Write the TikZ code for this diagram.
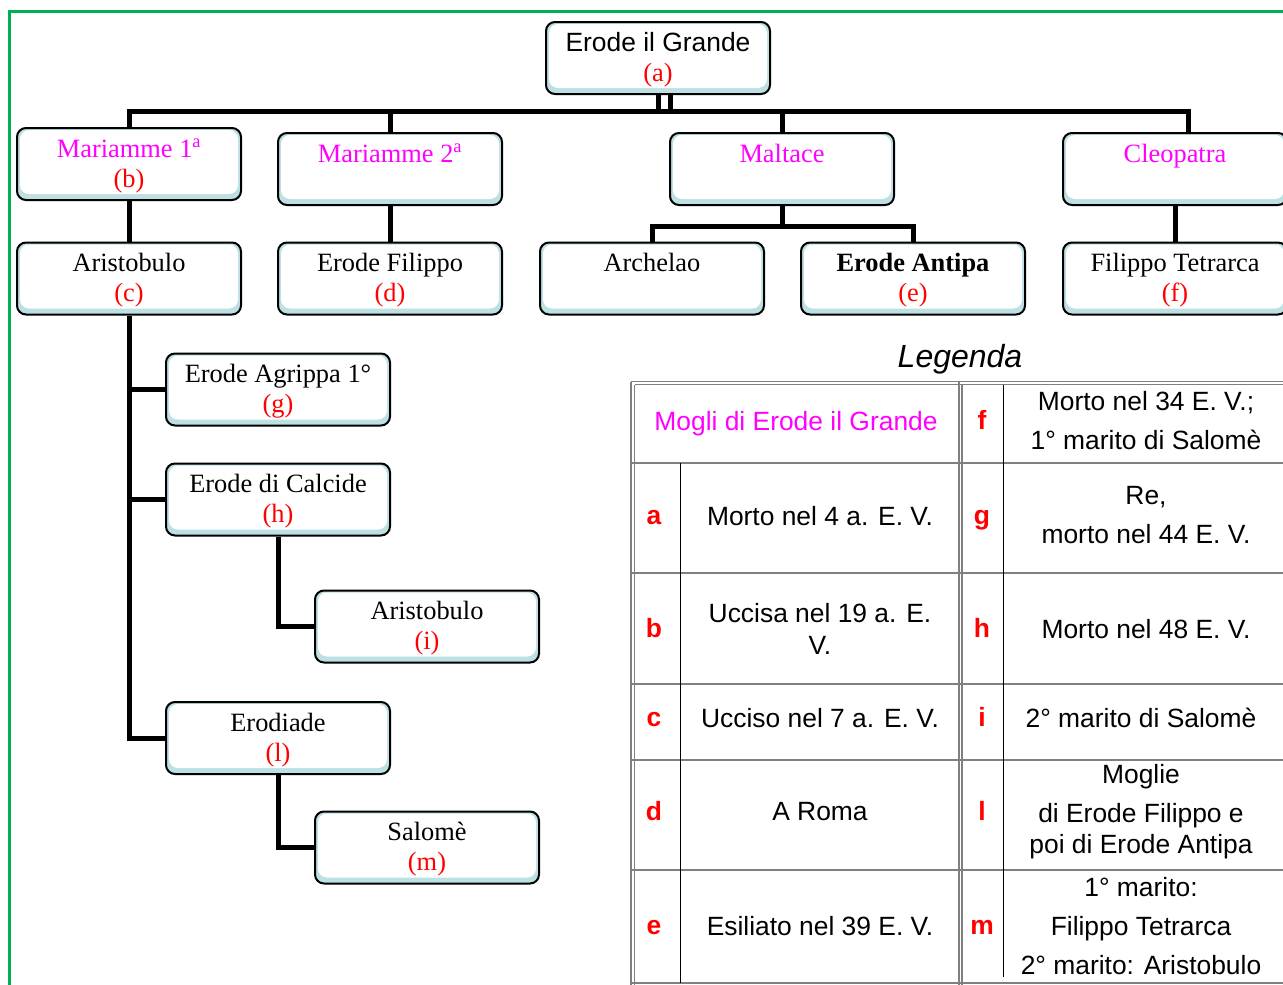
\documentclass[tikz,border=0pt]{standalone}
\usepackage{fontspec}
\setmainfont{Liberation Serif}
\setsansfont{Liberation Sans}
\usetikzlibrary{calc,positioning}

\definecolor{boxblue}{RGB}{189,224,227}
\definecolor{framegreen}{RGB}{0,176,80}
\definecolor{wife}{RGB}{255,0,255}
\definecolor{gridgrey}{RGB}{128,128,128}

\newcommand{\lett}[1]{\textcolor{red}{(#1)}}
% two lines of a box, set 2pt lower than the centre
\newcommand{\who}[2]{\raisebox{-2pt}[\height][\depth]{\begin{tabular}{@{}c@{}}#1\\\mbox{}#2\end{tabular}}}

\tikzset{
  person/.style={draw, line width=2pt, rounded corners=9pt, fill=boxblue,
    minimum width=224pt, minimum height=72pt, inner sep=0pt,
    font=\fontsize{26.4}{30}\selectfont,
    path picture={\fill[white] ([xshift=3pt,yshift=6pt]path picture bounding box.south west)
      rectangle ([xshift=-3pt,yshift=-2pt]path picture bounding box.north east);}},
  conn/.style={line width=5pt},
  cell/.style={font=\sffamily\fontsize{26.4}{39}\selectfont, align=center},
  key/.style={font=\sffamily\bfseries\fontsize{26.4}{30}\selectfont, text=red, anchor=base},
  rule/.style={gridgrey, line width=1.2pt},
  thinrule/.style={black, line width=0.8pt}
}

\begin{document}
\begin{tikzpicture}[x=1pt,y=-1pt]
\useasboundingbox (0,0) rectangle (1283,985);
\draw[framegreen, line width=3pt] (9,985) -- (9,11) -- (1283,11);

% the family tree
\node[person] (a) at (658,58) {\who{\sffamily Erode il Grande}{\lett{a}}};
\node[person, text=wife] (b) at (129,164) {\who{Mariamme 1\textsuperscript{a}}{\lett{b}}};
\node[person, text=wife] (m2) at (390,169) {\who{Mariamme 2\textsuperscript{a}}{}};
\node[person, text=wife] (mt) at (782,169) {\who{Maltace}{}};
\node[person, text=wife] (cl) at (1175,169) {\who{Cleopatra}{}};
\node[person] (c) at (129,278.5) {\who{Aristobulo}{\lett{c}}};
\node[person] (d) at (390,278.5) {\who{Erode Filippo}{\lett{d}}};
\node[person] (ar) at (652,278.5) {\who{Archelao}{}};
\node[person] (e) at (913,278.5) {\who{\textbf{Erode Antipa}}{\lett{e}}};
\node[person] (f) at (1175,278.5) {\who{Filippo Tetrarca}{\lett{f}}};
\node[person] (g) at (278,389.5) {\who{Erode Agrippa 1°}{\lett{g}}};
\node[person] (h) at (278,499.5) {\who{Erode di Calcide}{\lett{h}}};
\node[person] (i) at (427,626.5) {\who{Aristobulo}{\lett{i}}};
\node[person] (l) at (278,738) {\who{Erodiade}{\lett{l}}};
\node[person] (m) at (427,847.5) {\who{Salomè}{\lett{m}}};

% connectors
\coordinate (top) at (0,111);
\coordinate (clt) at ([xshift=13pt]cl.north);
\coordinate (mtj) at ([yshift=-20pt]mt.south);
\draw[conn] (a.south) -- (a.south |- top);
\draw[conn] ([xshift=12pt]a.south) -- ([xshift=12pt]a.south |- top);
\draw[conn] (b.north) |- (top -| clt) -- (clt);
\draw[conn] (m2.north) -- (m2.north |- top);
\draw[conn] (mt.north) -- (mt.north |- top);
\draw[conn] (b.south) -- (c.north);
\draw[conn] (m2.south) -- (d.north);
\draw[conn] (mt.south) -- (mtj);
\draw[conn] (ar.north) |- (mtj) -| (e.north);
\draw[conn] (cl.south) -- (f.north);
\draw[conn] (c.south) |- (l.west);
\draw[conn] (c.south |- g.west) -- (g.west);
\draw[conn] (c.south |- h.west) -- (h.west);
\draw[conn] (h.south) |- (i.west);
\draw[conn] (l.south) |- (m.west);

% legend
\node[font=\sffamily\itshape\fontsize{32}{36}\selectfont] (leg) at (960,359) {Legenda};
\draw[rule] (631,381.5) -- (1283,381.5);
\draw[rule] (634.5,384.5) -- (1283,384.5);
\draw[rule] (631,381.5) -- (631,985);
\draw[rule] (634.5,384.5) -- (634.5,985);
\draw[rule] (959,381.5) -- (959,985);
\draw[rule] (962,384.5) -- (962,985);
\draw[rule] (631,463) -- (1283,463);
\draw[rule] (631,573) -- (1283,573);
\draw[rule] (631,684) -- (1283,684);
\draw[rule] (631,760) -- (1283,760);
\draw[rule] (631,870) -- (1283,870);
\draw[rule] (631,983) -- (1283,983);
\draw[thinrule] (680,463) -- (680,983);
\draw[thinrule] (1003,384.5) -- (1003,977);

\node[cell, text=wife] (t0) at (796,424) {Mogli di Erode il Grande};
\node[key] (ka) at (654,524.5) {a};
\node[key] (kb) at (654,637.5) {b};
\node[key] (kc) at (654,726.5) {c};
\node[key] (kd) at (654,820.5) {d};
\node[key] (ke) at (654,934.5) {e};
\node[key] (kf) at (982,429.5) {f};
\node[key] (kg) at (982,524.5) {g};
\node[key] (kh) at (982,637.5) {h};
\node[key] (ki) at (982,726.5) {i};
\node[key] (kl) at (982,820.5) {l};
\node[key] (km) at (982,934.5) {m};

\node[cell] (ta) at (820,516) {Morto nel 4 a. E. V.};
\node[cell, font=\sffamily\fontsize{26.4}{32}\selectfont] (tb) at (820,629) {Uccisa nel 19 a. E.\\V.};
\node[cell] (tc) at (820,718) {Ucciso nel 7 a. E. V.};
\node[cell] (td) at (820,812) {A Roma};
\node[cell] (te) at (820,926) {Esiliato nel 39 E. V.};
\node[cell] (tf) at (1146,421) {Morto nel 34 E. V.;\\1° marito di Salomè};
\node[cell] (tg) at (1146,515) {Re,\\morto nel 44 E. V.};
\node[cell] (th) at (1146,629) {Morto nel 48 E. V.};
\node[cell] (ti) at (1141,718) {2° marito di Salomè};
\node[cell] (tl) at (1141,812) {Moglie\\di Erode Filippo e\\[-8pt]poi di Erode Antipa};
\node[cell] (tm) at (1141,926) {1° marito:\\Filippo Tetrarca\\2° marito: Aristobulo};
\end{tikzpicture}
\end{document}
